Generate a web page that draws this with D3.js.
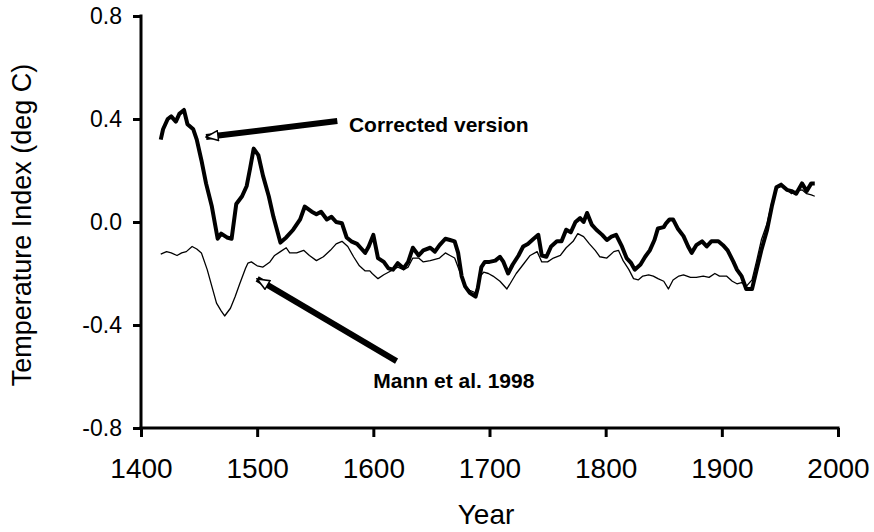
<!DOCTYPE html>
<html>
<head>
<meta charset="utf-8">
<script src="https://cdn.jsdelivr.net/npm/d3@7"></script>
<style>
  body { margin: 0; background: #fff; }
  svg text { font-family: "Liberation Sans", Arial, sans-serif; fill: #000; }
</style>
</head>
<body>
<div id="chart"></div>
<script>
// corrected version (thick line)
const correctedYears = [1417,1419,1423,1426,1430,1433,1437,1440,1445,1448,1452,1456,1461,1466,1469,1474,1478,1482,1487,1491,1494,1497,1501,1505,1510,1514,1520,1525,1531,1537,1541,1547,1551,1555,1560,1564,1568,1573,1577,1581,1586,1589,1593,1596,1600,1604,1609,1613,1617,1621,1626,1630,1634,1639,1643,1649,1653,1657,1662,1666,1670,1673,1676,1679,1683,1688,1690,1693,1696,1700,1705,1709,1712,1716,1720,1725,1729,1733,1738,1742,1745,1749,1753,1758,1762,1766,1770,1774,1778,1781,1784,1788,1792,1797,1801,1805,1809,1814,1818,1822,1825,1830,1834,1838,1842,1845,1850,1852,1855,1858,1862,1867,1871,1874,1878,1883,1887,1891,1897,1901,1905,1910,1913,1917,1921,1926,1930,1934,1939,1943,1947,1951,1956,1960,1964,1969,1973,1977,1980];
const correctedValues = [0.32,0.36,0.40,0.41,0.39,0.42,0.435,0.38,0.36,0.32,0.24,0.15,0.06,-0.065,-0.045,-0.06,-0.065,0.07,0.10,0.14,0.21,0.285,0.26,0.18,0.10,0.02,-0.08,-0.06,-0.03,0.01,0.06,0.04,0.03,0.04,0.01,0.02,0.0,-0.005,-0.06,-0.075,-0.085,-0.10,-0.12,-0.095,-0.05,-0.14,-0.155,-0.18,-0.185,-0.16,-0.18,-0.155,-0.10,-0.13,-0.11,-0.10,-0.115,-0.09,-0.065,-0.07,-0.075,-0.12,-0.21,-0.25,-0.275,-0.29,-0.255,-0.175,-0.155,-0.155,-0.15,-0.135,-0.155,-0.20,-0.165,-0.13,-0.095,-0.085,-0.065,-0.05,-0.13,-0.135,-0.095,-0.075,-0.075,-0.03,-0.04,0.0,0.015,0.0,0.035,-0.01,-0.03,-0.05,-0.07,-0.057,-0.05,-0.095,-0.14,-0.16,-0.185,-0.165,-0.135,-0.11,-0.07,-0.025,-0.02,-0.005,0.01,0.01,-0.025,-0.055,-0.095,-0.12,-0.09,-0.075,-0.095,-0.075,-0.075,-0.09,-0.11,-0.155,-0.185,-0.21,-0.26,-0.26,-0.185,-0.11,-0.03,0.06,0.135,0.145,0.125,0.12,0.11,0.15,0.12,0.15,0.15];

// Mann et al. 1998 (thin line)
const mannYears = [1417,1422,1426,1431,1435,1439,1444,1448,1452,1457,1461,1465,1469,1472,1477,1481,1485,1490,1492,1495,1500,1505,1511,1515,1520,1525,1528,1534,1540,1545,1551,1557,1563,1568,1573,1578,1583,1588,1593,1597,1599,1604,1609,1613,1617,1621,1626,1630,1634,1639,1643,1649,1653,1657,1662,1666,1670,1675,1679,1683,1688,1692,1695,1699,1703,1709,1715,1719,1723,1729,1735,1741,1745,1750,1755,1761,1766,1772,1776,1781,1786,1791,1795,1801,1807,1811,1815,1820,1824,1828,1832,1837,1841,1845,1850,1854,1858,1863,1867,1873,1878,1884,1889,1894,1898,1904,1909,1913,1917,1921,1926,1930,1934,1939,1943,1947,1952,1956,1960,1964,1969,1973,1977,1980];
const mannValues = [-0.125,-0.115,-0.12,-0.13,-0.12,-0.115,-0.095,-0.105,-0.12,-0.185,-0.25,-0.315,-0.345,-0.365,-0.335,-0.29,-0.24,-0.18,-0.16,-0.155,-0.17,-0.175,-0.155,-0.13,-0.115,-0.10,-0.12,-0.12,-0.11,-0.13,-0.15,-0.135,-0.11,-0.085,-0.075,-0.095,-0.135,-0.17,-0.19,-0.19,-0.20,-0.22,-0.205,-0.195,-0.185,-0.175,-0.185,-0.175,-0.14,-0.14,-0.155,-0.15,-0.145,-0.14,-0.12,-0.13,-0.14,-0.20,-0.25,-0.265,-0.275,-0.21,-0.195,-0.20,-0.21,-0.23,-0.26,-0.23,-0.20,-0.165,-0.13,-0.115,-0.155,-0.155,-0.14,-0.13,-0.10,-0.075,-0.045,-0.057,-0.085,-0.11,-0.135,-0.14,-0.115,-0.11,-0.15,-0.185,-0.22,-0.225,-0.21,-0.205,-0.21,-0.22,-0.23,-0.26,-0.225,-0.21,-0.205,-0.215,-0.215,-0.21,-0.215,-0.20,-0.21,-0.21,-0.23,-0.24,-0.235,-0.25,-0.225,-0.15,-0.07,-0.005,0.075,0.13,0.14,0.125,0.11,0.12,0.125,0.11,0.105,0.10];

const xTicks = [1400,1500,1600,1700,1800,1900,2000];
const yTicks = [-0.8,-0.4,0.0,0.4,0.8];

// annotations: text position and arrow tail -> tip, in data units
const notes = [
  {label: "Corrected version", tx: 1579, ty: 0.35, x0: 1569, y0: 0.392, x1: 1456, y1: 0.33},
  {label: "Mann et al. 1998", tx: 1600, ty: -0.645, x0: 1620, y0: -0.54, x1: 1500, y1: -0.221}
];

const width = 874, height = 532;

const svg = d3.select("#chart").append("svg")
  .attr("width", width).attr("height", height);

const x = d3.scaleLinear().domain([1400, 2000]).range([141, 838]);
const y = d3.scaleLinear().domain([-0.8, 0.8]).range([428, 16]);

// axes
const xAxis = svg.append("g")
  .attr("transform", "translate(0," + y(-0.8) + ")")
  .call(d3.axisBottom(x).tickValues(xTicks).tickFormat(d3.format("d")).tickSize(9).tickSizeOuter(0).tickPadding(21));
xAxis.select(".domain").attr("stroke-width", 3).attr("d", "M" + (x(1400) - 1.5) + ",0H" + (x(2000) + 1.5));
xAxis.selectAll(".tick line").attr("stroke-width", 3);
xAxis.selectAll(".tick text").attr("font-size", 28);

const yAxis = svg.append("g")
  .attr("transform", "translate(" + x(1400) + ",0)")
  .call(d3.axisLeft(y).tickValues(yTicks).tickFormat(d3.format(".1f")).tickSize(8).tickSizeOuter(0).tickPadding(11));
yAxis.select(".domain").attr("stroke-width", 3).attr("d", "M0," + (y(0.8) - 1.5) + "V" + (y(-0.8) + 1.5));
yAxis.selectAll(".tick line").attr("stroke-width", 3);
yAxis.selectAll(".tick text").attr("font-size", 23).text(d => d3.format(".1f")(d).replace("−", "-"));

// axis titles
svg.append("text")
  .attr("transform", "translate(31," + ((y(0.8) + y(-0.8)) / 2 + 3) + ") rotate(-90)")
  .attr("text-anchor", "middle")
  .attr("font-size", 27)
  .text("Temperature Index (deg C)");

svg.append("text")
  .attr("x", 486).attr("y", 524)
  .attr("text-anchor", "middle")
  .attr("font-size", 28)
  .text("Year");

// lines
const line = d3.line()
  .x(d => x(d[0]))
  .y(d => y(d[1]));

svg.append("path")
  .datum(d3.zip(mannYears, mannValues))
  .attr("fill", "none")
  .attr("stroke", "#000")
  .attr("stroke-width", 1.3)
  .attr("stroke-linejoin", "round")
  .attr("d", line);

svg.append("path")
  .datum(d3.zip(correctedYears, correctedValues))
  .attr("fill", "none")
  .attr("stroke", "#000")
  .attr("stroke-width", 4)
  .attr("stroke-linejoin", "round")
  .attr("d", line);

// arrow head (hollow)
svg.append("defs").append("marker")
  .attr("id", "head")
  .attr("markerUnits", "userSpaceOnUse")
  .attr("viewBox", "0 0 14 12")
  .attr("refX", 13).attr("refY", 6)
  .attr("markerWidth", 14).attr("markerHeight", 12)
  .attr("orient", "auto")
  .append("path")
  .attr("d", "M1,1 L13,6 L1,11 Z")
  .attr("fill", "#fff")
  .attr("stroke", "#000")
  .attr("stroke-width", 1.5);

const note = svg.selectAll(".note").data(notes).enter().append("g");
note.append("line")
  .attr("x1", d => x(d.x0)).attr("y1", d => y(d.y0))
  .attr("x2", d => x(d.x1)).attr("y2", d => y(d.y1))
  .attr("stroke", "#000")
  .attr("stroke-width", 6)
  .attr("marker-end", "url(#head)");
note.append("text")
  .attr("x", d => x(d.tx)).attr("y", d => y(d.ty))
  .attr("font-size", 21)
  .attr("font-weight", "bold")
  .text(d => d.label);
</script>
</body>
</html>
